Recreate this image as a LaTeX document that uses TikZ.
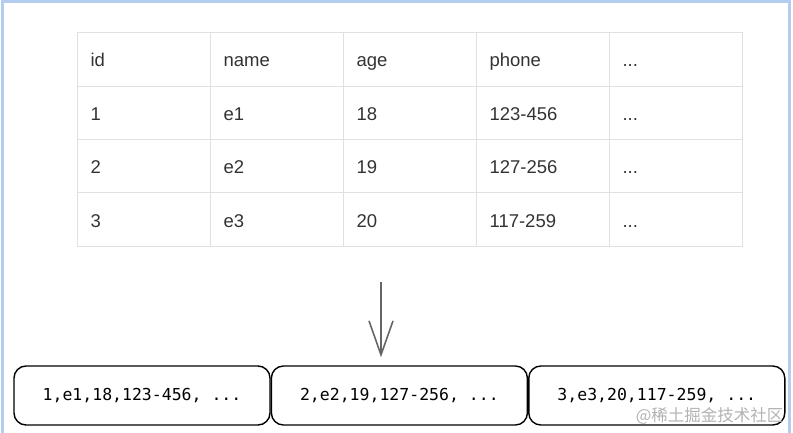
\documentclass[tikz,border=0pt]{standalone}
\usepackage{fontspec}
\setmainfont{Liberation Sans}
\setmonofont{DejaVu Sans Mono}
\newfontfamily\cjkfont{Noto Sans CJK SC}
\usetikzlibrary{positioning}
\usetikzlibrary{matrix}
\usetikzlibrary{arrows.meta}
\definecolor{framebl}{HTML}{B4CCF0}
\definecolor{celltxt}{HTML}{333333}

\begin{document}
\begin{tikzpicture}[x=1pt, y=1pt, cell/.style={draw=black!12, line width=0.8pt, anchor=center, minimum width=133pt, minimum height=53.4pt, text width=107pt, text height=17pt, text depth=2pt, inner xsep=13pt, inner ysep=0pt, align=left, text=celltxt, font=\fontsize{18.5}{20}\selectfont}, rec/.style={draw, rounded corners=12pt, line width=1.4pt, minimum width=256pt, minimum height=59pt, font=\ttfamily\fontsize{16.5}{20}\selectfont}, flow/.style={-{Straight Barb[length=34pt,width=24pt]}, draw=black!60, line width=1.6pt}, frame/.style={draw=framebl, line width=2.5pt}, wm/.style={text=black!30, font=\cjkfont\fontsize{16.5}{18}\selectfont}]
        \useasboundingbox (0,0) rectangle (793,-433);
        \draw[frame] (2.5,-440) -- (2.5,-1.5) -- (789.5,-1.5) -- (789.5,-440);

        \matrix (tbl) [matrix of nodes, nodes={cell}, inner sep=0pt, column sep=-0.8pt, row sep=-0.8pt, anchor=north west] at (77,-32) {
            id & name & age & phone & ... \\
            1 & e1 & 18 & 123-456 & ... \\
            2 & e2 & 19 & 127-256 & ... \\
            3 & e3 & 20 & 117-259 & ... \\
        };

        \node[rec] (rowA) at (142,-395.5) {1,e1,18,123-456, ...};
        \node[rec] (rowB) [right=0pt of rowA] {2,e2,19,127-256, ...};
        \node[rec] (rowC) [right=0pt of rowB] {3,e3,20,117-259, ...};

        \coordinate (arrtop) at (381,-282);
        \draw[flow, shorten >=8pt] (arrtop) -- (arrtop |- rowB.north);

        \node[wm, anchor=east] (mark) at (787,-416) {@稀土掘金技术社区};
    \end{tikzpicture}
\end{document}
